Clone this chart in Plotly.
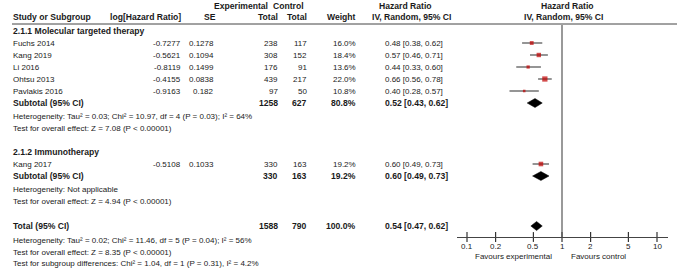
import math
import plotly.graph_objects as go

# ---------------- data ----------------
group1_title = "2.1.1 Molecular targeted therapy"
group2_title = "2.1.2 Immunotherapy"
studies = ["Fuchs 2014", "Kang 2019", "Li 2016", "Ohtsu 2013", "Pavlakis 2016", "Kang 2017"]
study_group = [1, 1, 1, 1, 1, 2]
log_hr = [-0.7277, -0.5621, -0.8119, -0.4155, -0.9163, -0.5108]
se = [0.1278, 0.1094, 0.1499, 0.0838, 0.182, 0.1033]
exp_total = [238, 308, 176, 439, 97, 330]
ctrl_total = [117, 152, 91, 217, 50, 163]
weight = [16.0, 18.4, 13.6, 22.0, 10.8, 19.2]
hr = [0.48, 0.57, 0.44, 0.66, 0.40, 0.60]
hr_lo = [0.38, 0.46, 0.33, 0.56, 0.28, 0.49]
hr_hi = [0.62, 0.71, 0.60, 0.78, 0.57, 0.73]

pooled_labels = ["Subtotal (95% CI)", "Subtotal (95% CI)", "Total (95% CI)"]
pooled_exp = [1258, 330, 1588]
pooled_ctrl = [627, 163, 790]
pooled_weight = [80.8, 19.2, 100.0]
pooled_hr = [0.52, 0.60, 0.54]
pooled_lo = [0.43, 0.49, 0.47]
pooled_hi = [0.62, 0.73, 0.62]

footnotes_g1 = ["Heterogeneity: Tau² = 0.03; Chi² = 10.97, df = 4 (P = 0.03); I² = 64%",
                "Test for overall effect: Z = 7.08 (P < 0.00001)"]
footnotes_g2 = ["Heterogeneity: Not applicable",
                "Test for overall effect: Z = 4.94 (P < 0.00001)"]
footnotes_tot = ["Heterogeneity: Tau² = 0.02; Chi² = 11.46, df = 5 (P = 0.04); I² = 56%",
                 "Test for overall effect: Z = 8.35 (P < 0.00001)",
                 "Test for subgroup differences: Chi² = 1.04, df = 1 (P = 0.31), I² = 4.2%"]

tick_vals = [0.1, 0.2, 0.5, 1, 2, 5, 10]
tick_text = ["0.1", "0.2", "0.5", "1", "2", "5", "10"]
favours_left = "Favours experimental"
favours_right = "Favours control"

# ---------------- layout (pixel geometry) ----------------
W, H = 677, 268
FONT = "Liberation Sans, Arial, sans-serif"
FS = 8.0
FSB = 8.6
TXT = "#1a1a1a"
RED = "#c00000"

y_hdr1, y_hdr2, y_rule = 6, 17, 24
y_g1_title = 31
y_study = [43, 55, 67, 79, 91, 164]
y_pooled = [103, 176, 226]
y_foot_g1 = [116, 128]
y_g2_title = 152
y_foot_g2 = [189, 201]
y_foot_tot = [240, 252, 263]
y_axis = 237

x_name = 12
x_loghr_r = 182
x_se_r = 215
x_exp_r = 279
x_ctrl_r = 308
x_w_r = 357
x_ci_l = 384

px_one, px_decade = 562, 95.0
ax_left, ax_right = 457, 668


def p(px):
    return px / W


annotations = []


def txt(x, y, s, anchor="left", bold=False):
    annotations.append(dict(
        x=p(x), y=y, xref="paper", yref="y", text=f"<b>{s}</b>" if bold else s,
        showarrow=False, xanchor=anchor, yanchor="middle",
        font=dict(family=FONT, size=FSB if bold else FS, color=TXT), borderpad=0))


# headers
txt(241, y_hdr1, "Experimental", "center", True)
txt(288, y_hdr1, "Control", "center", True)
txt(x_name, y_hdr2, "Study or Subgroup", "left", True)
txt(x_loghr_r, y_hdr2, "log[Hazard Ratio]", "right", True)
txt(x_se_r + 2, y_hdr2, "SE", "right", True)
txt(x_exp_r, y_hdr2, "Total", "right", True)
txt(x_ctrl_r, y_hdr2, "Total", "right", True)
txt(x_w_r, y_hdr2, "Weight", "right", True)
txt(405, y_hdr1, "Hazard Ratio", "center", True)
txt(411, y_hdr2, "IV, Random, 95% CI", "center", True)
txt(567, y_hdr1, "Hazard Ratio", "center", True)
txt(563, y_hdr2, "IV, Random, 95% CI", "center", True)

txt(x_name, y_g1_title, group1_title, "left", True)
txt(x_name, y_g2_title, group2_title, "left", True)

for i, name in enumerate(studies):
    y = y_study[i]
    txt(x_name, y, name)
    txt(x_loghr_r, y, f"{log_hr[i]:.4f}", "right")
    txt(x_se_r, y, str(se[i]), "right")
    txt(x_exp_r, y, str(exp_total[i]), "right")
    txt(x_ctrl_r, y, str(ctrl_total[i]), "right")
    txt(x_w_r, y, f"{weight[i]:.1f}%", "right")
    txt(x_ci_l, y, f"{hr[i]:.2f} [{hr_lo[i]:.2f}, {hr_hi[i]:.2f}]", "left")

for i, lab in enumerate(pooled_labels):
    y = y_pooled[i]
    txt(x_name, y, lab, "left", True)
    txt(x_exp_r, y, str(pooled_exp[i]), "right", True)
    txt(x_ctrl_r, y, str(pooled_ctrl[i]), "right", True)
    txt(x_w_r, y, f"{pooled_weight[i]:.1f}%", "right", True)
    txt(x_ci_l, y, f"{pooled_hr[i]:.2f} [{pooled_lo[i]:.2f}, {pooled_hi[i]:.2f}]", "left", True)

for ys, lines in ((y_foot_g1, footnotes_g1), (y_foot_g2, footnotes_g2), (y_foot_tot, footnotes_tot)):
    for y, s in zip(ys, lines):
        txt(x_name, y, s)

# tick labels and favours labels
for v, t in zip(tick_vals, tick_text):
    txt(px_one + px_decade * math.log10(v), 246, t, "center")
txt(513, 256, favours_left, "center")
txt(598, 256, favours_right, "center")

fig = go.Figure()

# CI lines
for i in range(len(studies)):
    fig.add_trace(go.Scatter(x=[hr_lo[i], hr_hi[i]], y=[y_study[i], y_study[i]], mode="lines",
                             line=dict(color="#4d4d4d", width=1.2), showlegend=False, hoverinfo="skip"))
# study squares
fig.add_trace(go.Scatter(x=hr, y=y_study, mode="markers",
                         marker=dict(symbol="square", color=RED, size=[w * 0.24 for w in weight], line=dict(width=0)),
                         showlegend=False, hoverinfo="skip"))
# diamonds
for i in range(len(pooled_hr)):
    yc = y_pooled[i]
    fig.add_trace(go.Scatter(x=[pooled_lo[i], pooled_hr[i], pooled_hi[i], pooled_hr[i], pooled_lo[i]],
                             y=[yc, yc - 4.5, yc, yc + 4.5, yc], mode="lines", fill="toself",
                             fillcolor="black", line=dict(color="black", width=0.5),
                             showlegend=False, hoverinfo="skip"))
# axis tick marks crossing the axis line
fig.add_trace(go.Scatter(x=tick_vals, y=[y_axis] * len(tick_vals), mode="markers",
                         marker=dict(symbol="line-ns", size=7, line=dict(color="#333333", width=1.2)),
                         showlegend=False, hoverinfo="skip"))

shapes = [
    dict(type="line", xref="paper", yref="y", x0=p(x_name), x1=1, y0=y_rule, y1=y_rule,
         line=dict(color="#444444", width=1)),
    dict(type="line", xref="x", yref="y", x0=1, x1=1, y0=y_rule + 1, y1=y_axis,
         line=dict(color="#555555", width=1.2)),
]

lo_log = (ax_left - px_one) / px_decade
hi_log = (ax_right - px_one) / px_decade

fig.update_layout(
    width=W, height=H, margin=dict(l=0, r=0, t=0, b=0),
    paper_bgcolor="white", plot_bgcolor="white",
    xaxis=dict(type="log", domain=[p(ax_left), p(ax_right)], range=[lo_log, hi_log],
               showline=True, linecolor="#444444", linewidth=1.2, showgrid=False, zeroline=False,
               showticklabels=False, ticks="", anchor="free", position=1 - y_axis / H, fixedrange=True),
    yaxis=dict(range=[H, 0], domain=[0, 1], visible=False, fixedrange=True),
    shapes=shapes, annotations=annotations, showlegend=False,
)

fig.write_html("out.html", config={"displayModeBar": False},
               post_script="document.body.style.margin='0';document.body.style.overflow='hidden';")
